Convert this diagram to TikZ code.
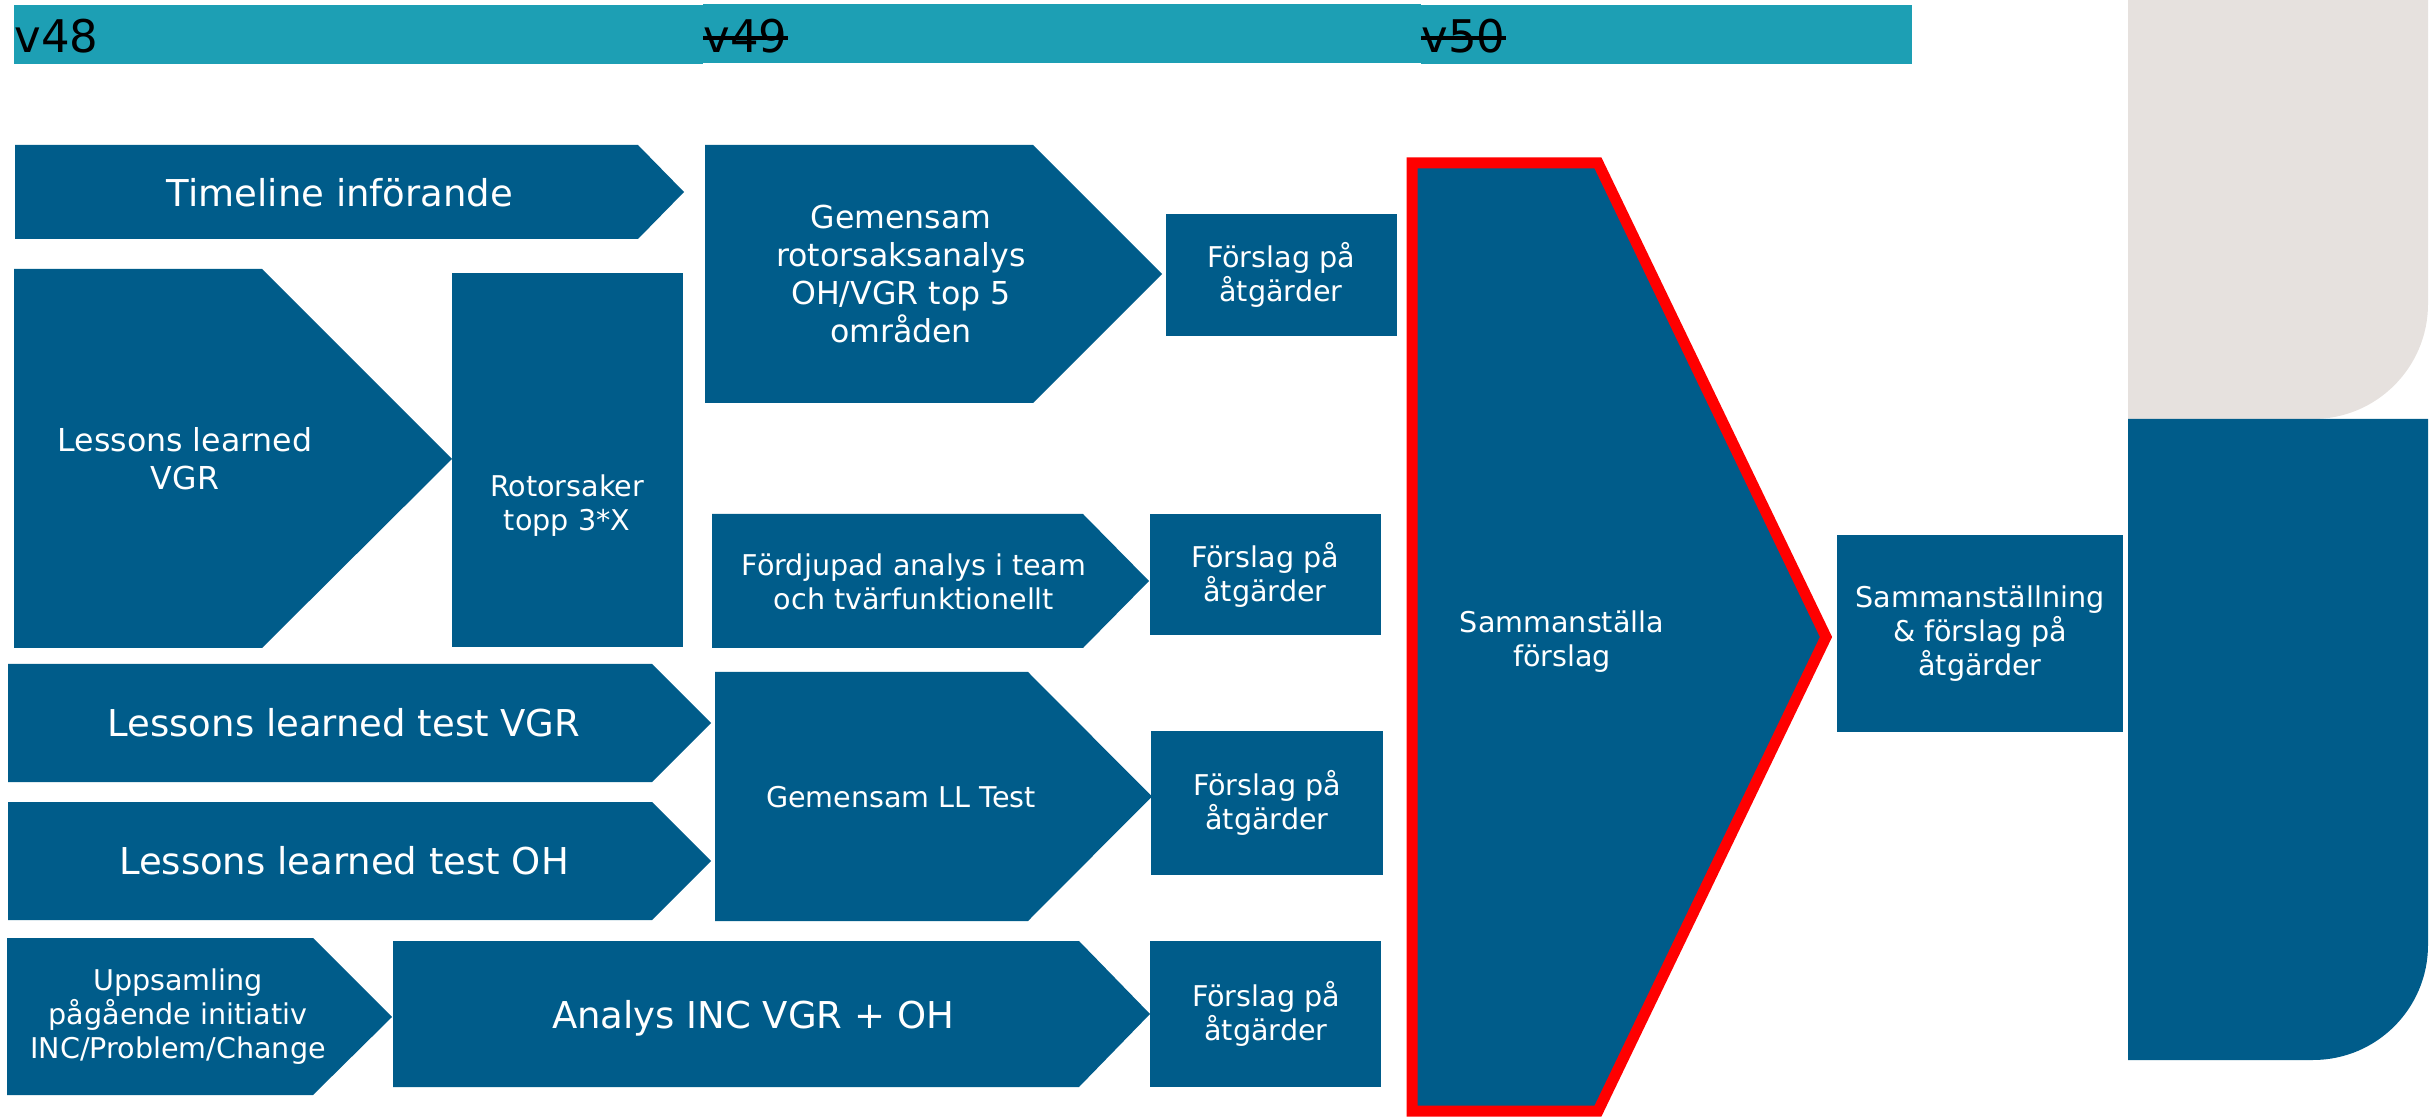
\documentclass[tikz,border=0pt]{standalone}
\usepackage{fontspec}
\setmainfont{DejaVu Sans}
\definecolor{dblue}{HTML}{005C8A}
\definecolor{barteal}{HTML}{1D9FB4}
\definecolor{lgrey}{HTML}{E6E1DE}
\begin{document}
\begin{tikzpicture}[x=0.5pt,y=-0.5pt,
  shp/.style={fill=dblue},
  big/.style={text=white, font=\fontsize{18.5}{22}\selectfont, align=center, inner sep=0pt},
  med/.style={text=white, font=\fontsize{15.8}{19}\selectfont, align=center, inner sep=0pt},
  sml/.style={text=white, font=\fontsize{14.3}{17}\selectfont, align=center, inner sep=0pt},
  wk/.style={font=\fontsize{22.5}{26}\selectfont, inner sep=0pt, anchor=base west, text=black},
  strike/.style={line width=2pt, black}
]
\useasboundingbox (0,0) rectangle (2433,1117);

% week bars
\fill[barteal] (14,5) rectangle (703,64);
\fill[barteal] (703,4) rectangle (1421,63);
\fill[barteal] (1421,5) rectangle (1912,64);
\node[wk] (w48) at (14,53) {v48};
\node[wk] (w49) at (703,53) {v49};
\node[wk] (w50) at (1421,53) {v50};
\draw[strike] ([yshift=7.5pt]w49.base west) -- ([yshift=7.5pt]w49.base east);
\draw[strike] ([yshift=7.5pt]w50.base west) -- ([yshift=7.5pt]w50.base east);

% right decorative shapes
\fill[lgrey] (2128,0) -- (2428,0) -- (2428,304) .. controls (2428,367.5) and (2376.5,419) .. (2313,419) -- (2128,419) -- cycle;
\fill[dblue] (2128,419) -- (2428,419) -- (2428,945) .. controls (2428,1008.5) and (2376.5,1060) .. (2313,1060) -- (2128,1060) -- cycle;

% column 1
\fill[shp] (15,145) -- (638,145) -- (684,192) -- (638,239) -- (15,239) -- cycle;
\node[big, anchor=base] (tl) at (340,207) {Timeline införande};

\fill[shp] (14,269) -- (262,269) -- (452,459) -- (262,648) -- (14,648) -- cycle;
\node[med] (llvgr) at (185,459) {Lessons learned\\VGR};

\fill[shp] (452,273) rectangle (683,647);
\node[sml] (rot) at (567,506) {Rotorsaker\\topp 3*X};

\fill[shp] (8,664) -- (652,664) -- (711,723) -- (652,782) -- (8,782) -- cycle;
\node[big] (lltv) at (344,723) {Lessons learned test VGR};

\fill[shp] (8,802) -- (652,802) -- (711,861) -- (652,920) -- (8,920) -- cycle;
\node[big] (llto) at (344,861) {Lessons learned test OH};

\fill[shp] (7,938) -- (313,938) -- (392,1017) -- (313,1095) -- (7,1095) -- cycle;
\node[sml] (upp) at (178,1017) {Uppsamling\\pågående initiativ\\INC/Problem/Change};

% column 2
\fill[shp] (705,145) -- (1033,145) -- (1162,274) -- (1033,403) -- (705,403) -- cycle;
\node[med] (gra) at (901,274) {Gemensam\\rotorsaksanalys\\OH/VGR top 5\\områden};

\fill[shp] (712,514) -- (1083,514) -- (1149,581) -- (1083,648) -- (712,648) -- cycle;
\node[sml] (fda) at (914,582) {Fördjupad analys i team\\och tvärfunktionellt};

\fill[shp] (715,672) -- (1028,672) -- (1152,796.5) -- (1028,921) -- (715,921) -- cycle;
\node[sml] (glt) at (901,797) {Gemensam LL Test};

\fill[shp] (393,941) -- (1079,941) -- (1150,1014) -- (1079,1087) -- (393,1087) -- cycle;
\node[big, anchor=base] (ana) at (753,1028) {Analys INC VGR + OH};

% proposal boxes
\fill[shp] (1166,214) rectangle (1397,336);
\node[sml] (f1) at (1281,275) {Förslag på\\åtgärder};
\fill[shp] (1150,514) rectangle (1381,635);
\node[sml] (f2) at (1265,575) {Förslag på\\åtgärder};
\fill[shp] (1151,731) rectangle (1383,875);
\node[sml] (f3) at (1267,803) {Förslag på\\åtgärder};
\fill[shp] (1150,941) rectangle (1381,1087);
\node[sml] (f4) at (1266,1014) {Förslag på\\åtgärder};

% big red-outlined arrow
\filldraw[fill=dblue, draw=red, line width=5.5pt, line join=miter] (1412,163) -- (1598,163) -- (1826,637) -- (1598,1111) -- (1412,1111) -- cycle;
\node[sml] (sam) at (1562,642) {Sammanställa\\förslag};

% summary box
\fill[shp] (1837,535) rectangle (2123,732);
\node[sml] (smn) at (1980,634) {Sammanställning\\\& förslag på\\åtgärder};
\end{tikzpicture}
\end{document}
